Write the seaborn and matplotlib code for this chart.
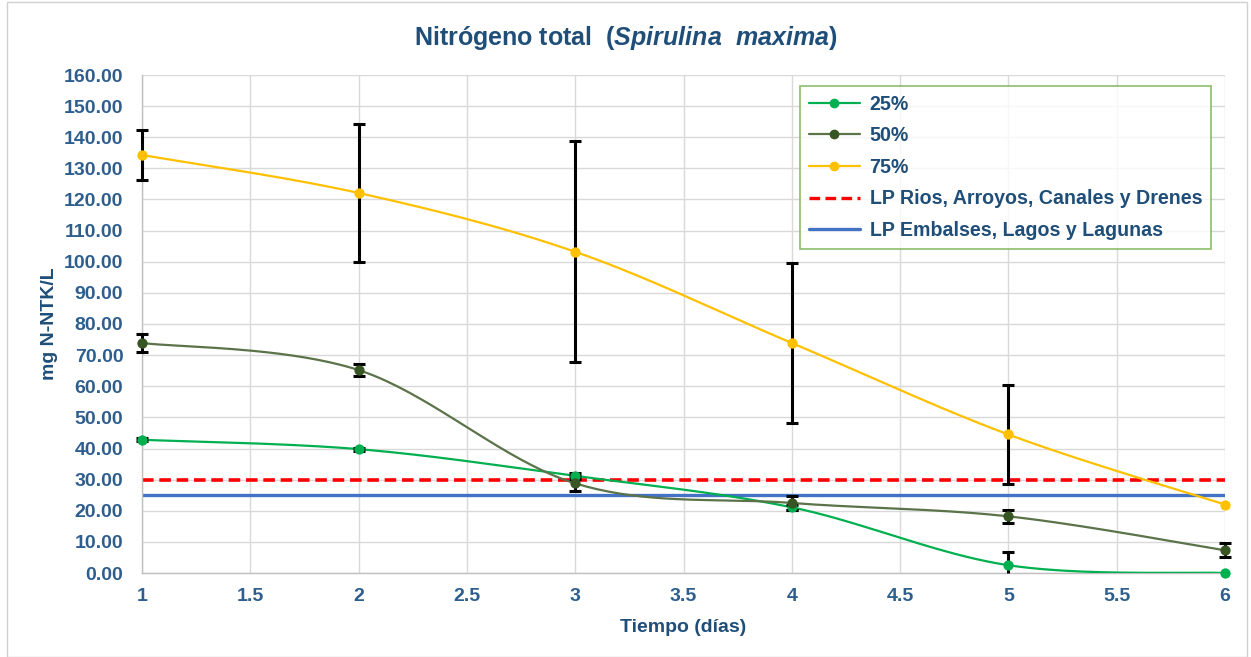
import numpy as np
import pandas as pd
import matplotlib
matplotlib.use("Agg")
import matplotlib.pyplot as plt
from matplotlib.lines import Line2D
from matplotlib.patches import Rectangle
import seaborn as sns

# ---- data ----
dias = [1, 2, 3, 4, 5, 6]
serie_25 = [42.8, 39.8, 31.2, 21.1, 2.5, 0.0]
err_25 = [0.5, 0.5, 1.0, 0.8, 4.2, 0.0]
serie_50 = [73.9, 65.2, 28.8, 22.5, 18.2, 7.3]
err_50 = [2.9, 1.9, 2.5, 2.3, 2.1, 2.2]
serie_75 = [134.3, 122.1, 103.2, 73.9, 44.5, 22.0]
err_75 = [8.0, 22.2, 35.5, 25.7, 16.0, 0.0]
lp_rios = 30.0
lp_embalses = 25.0
y_ticks = [0, 10, 20, 30, 40, 50, 60, 70, 80, 90, 100, 110, 120, 130, 140, 150, 160]
x_ticks = [1, 1.5, 2, 2.5, 3, 3.5, 4, 4.5, 5, 5.5, 6]
labels = ["25%", "50%", "75%", "LP Rios, Arroyos, Canales y Drenes", "LP Embalses, Lagos y Lagunas"]

# ---- style ----
sns.set_theme(style="white")
plt.rcParams["font.family"] = ["Liberation Sans", "DejaVu Sans"]
plt.rcParams["mathtext.fontset"] = "custom"
plt.rcParams["mathtext.rm"] = "Liberation Sans:bold"
plt.rcParams["mathtext.it"] = "Liberation Sans:italic:bold"

c25 = "#00B050"
c50_line = "#5B7349"
c50_mark = "#375623"
c75 = "#FFC000"
c_red = "#FF0000"
c_blue = "#4472C4"
txt = "#1F4E79"
tick_c = "#2E5E8E"


def smooth(x, y, n=40):
    # Excel-style smoothed line: cubic Bezier segments (Catmull-Rom tangents)
    x = np.asarray(x, float)
    y = np.asarray(y, float)
    P = np.column_stack([x, y])
    out = []
    for i in range(len(P) - 1):
        p0 = P[i - 1] if i > 0 else P[i]
        p1 = P[i]
        p2 = P[i + 1]
        p3 = P[i + 2] if i + 2 < len(P) else P[i + 1]
        c1 = p1 + (p2 - p0) / 6.0
        c2 = p2 - (p3 - p1) / 6.0
        t = np.linspace(0, 1, n)[:, None]
        seg = ((1 - t) ** 3) * p1 + 3 * ((1 - t) ** 2) * t * c1 + 3 * (1 - t) * t ** 2 * c2 + t ** 3 * p2
        out.append(seg if i == 0 else seg[1:])
    s = np.vstack(out)
    return s[:, 0], s[:, 1]


W, H = 1251, 657
fig = plt.figure(figsize=(W / 100, H / 100), dpi=100)
ax = fig.add_axes([142 / W, 1 - 573 / H, (1225 - 142) / W, (573 - 75) / H])

# outer chart border
fig.patches.append(Rectangle((7 / W, 0.0), (1247 - 7) / W, (655) / H, transform=fig.transFigure,
                             fill=False, edgecolor="#D0D0D0", linewidth=1.0))

# reference lines
ax.axhline(lp_rios, color=c_red, linestyle=(0, (3.2, 1.6)), linewidth=2.6, zorder=2)
ax.axhline(lp_embalses, color=c_blue, linewidth=2.4, zorder=2)

series = [(serie_25, err_25, c25, c25), (serie_50, err_50, c50_line, c50_mark), (serie_75, err_75, c75, c75)]
for vals, errs, lc, mc in series:
    sx, sy = smooth(dias, vals)
    sns.lineplot(x=sx, y=sy, ax=ax, color=lc, linewidth=1.6, sort=False, estimator=None, zorder=3)
for vals, errs, lc, mc in series:
    e = np.array(errs)
    v = np.array(vals)
    mask = e > 0
    lower = np.minimum(e[mask], v[mask])  # bars stop at the axis floor
    eb = ax.errorbar(np.array(dias)[mask], v[mask], yerr=[lower, e[mask]], fmt="none", ecolor="black",
                     elinewidth=2.2, capsize=4, capthick=2.2, zorder=4)
    for art in eb.lines[1] + eb.lines[2]:
        art.set_clip_on(False)
    if len(eb.lines[1]) >= 2:
        low_cap = eb.lines[1][0]
        ys = np.array(low_cap.get_ydata())
        low_cap.set_ydata(np.where(ys <= 0, np.nan, ys))
for vals, errs, lc, mc in series:
    sns.scatterplot(x=dias, y=vals, ax=ax, color=mc, s=55, edgecolor=mc, linewidth=0, zorder=5)
for coll in ax.collections:
    coll.set_clip_on(False)

ax.set_xlim(1, 6)
ax.set_ylim(0, 160)
ax.set_xticks(x_ticks)
ax.set_xticklabels([f"{v:g}" for v in x_ticks])
ax.set_yticks(y_ticks)
ax.set_yticklabels([f"{v:.2f}" for v in y_ticks])
ax.grid(True, color="#D9D9D9", linewidth=1.0)
ax.set_axisbelow(True)
for s in ["top", "right"]:
    ax.spines[s].set_visible(False)
for s in ["left", "bottom"]:
    ax.spines[s].set_color("#BFBFBF")
    ax.spines[s].set_linewidth(1.0)
ax.tick_params(axis="y", length=0, labelsize=14, labelcolor=tick_c, pad=13.5)
ax.tick_params(axis="x", length=0, labelsize=14, labelcolor=tick_c, pad=11)
for lab in ax.get_xticklabels() + ax.get_yticklabels():
    lab.set_fontweight("bold")

ax.set_xlabel("Tiempo (días)", fontsize=14, fontweight="bold", color=txt, labelpad=10)
ax.set_ylabel("mg N-NTK/L", fontsize=14, fontweight="bold", color=txt, labelpad=4)

fig.text(0.5, 1 - 38 / H, r"Nitrógeno total  ($\mathit{Spirulina\ \ maxima}$)", ha="center", va="center",
         fontsize=18, fontweight="bold", color=txt)

handles = [
    Line2D([], [], color=c25, marker="o", markersize=6, linewidth=1.6),
    Line2D([], [], color=c50_line, marker="o", markerfacecolor=c50_mark, markeredgecolor=c50_mark, markersize=6, linewidth=1.6),
    Line2D([], [], color=c75, marker="o", markersize=6, linewidth=1.6),
    Line2D([], [], color=c_red, linestyle=(0, (3.2, 1.6)), linewidth=2.4),
    Line2D([], [], color=c_blue, linewidth=2.4),
]
leg = ax.legend(handles, labels, loc="upper left", bbox_to_anchor=((800 - 142) / (1225 - 142), 1 - (86 - 75) / (573 - 75)),
                frameon=True, fancybox=False, fontsize=14.1, handlelength=2.6, handletextpad=0.5,
                labelspacing=0.64, borderpad=0.45, borderaxespad=0)
leg.get_frame().set_edgecolor("#70AD47")
leg.get_frame().set_linewidth(1.2)
for t in leg.get_texts():
    t.set_color(txt)
    t.set_fontweight("bold")

fig.savefig("out.png", dpi=100)
